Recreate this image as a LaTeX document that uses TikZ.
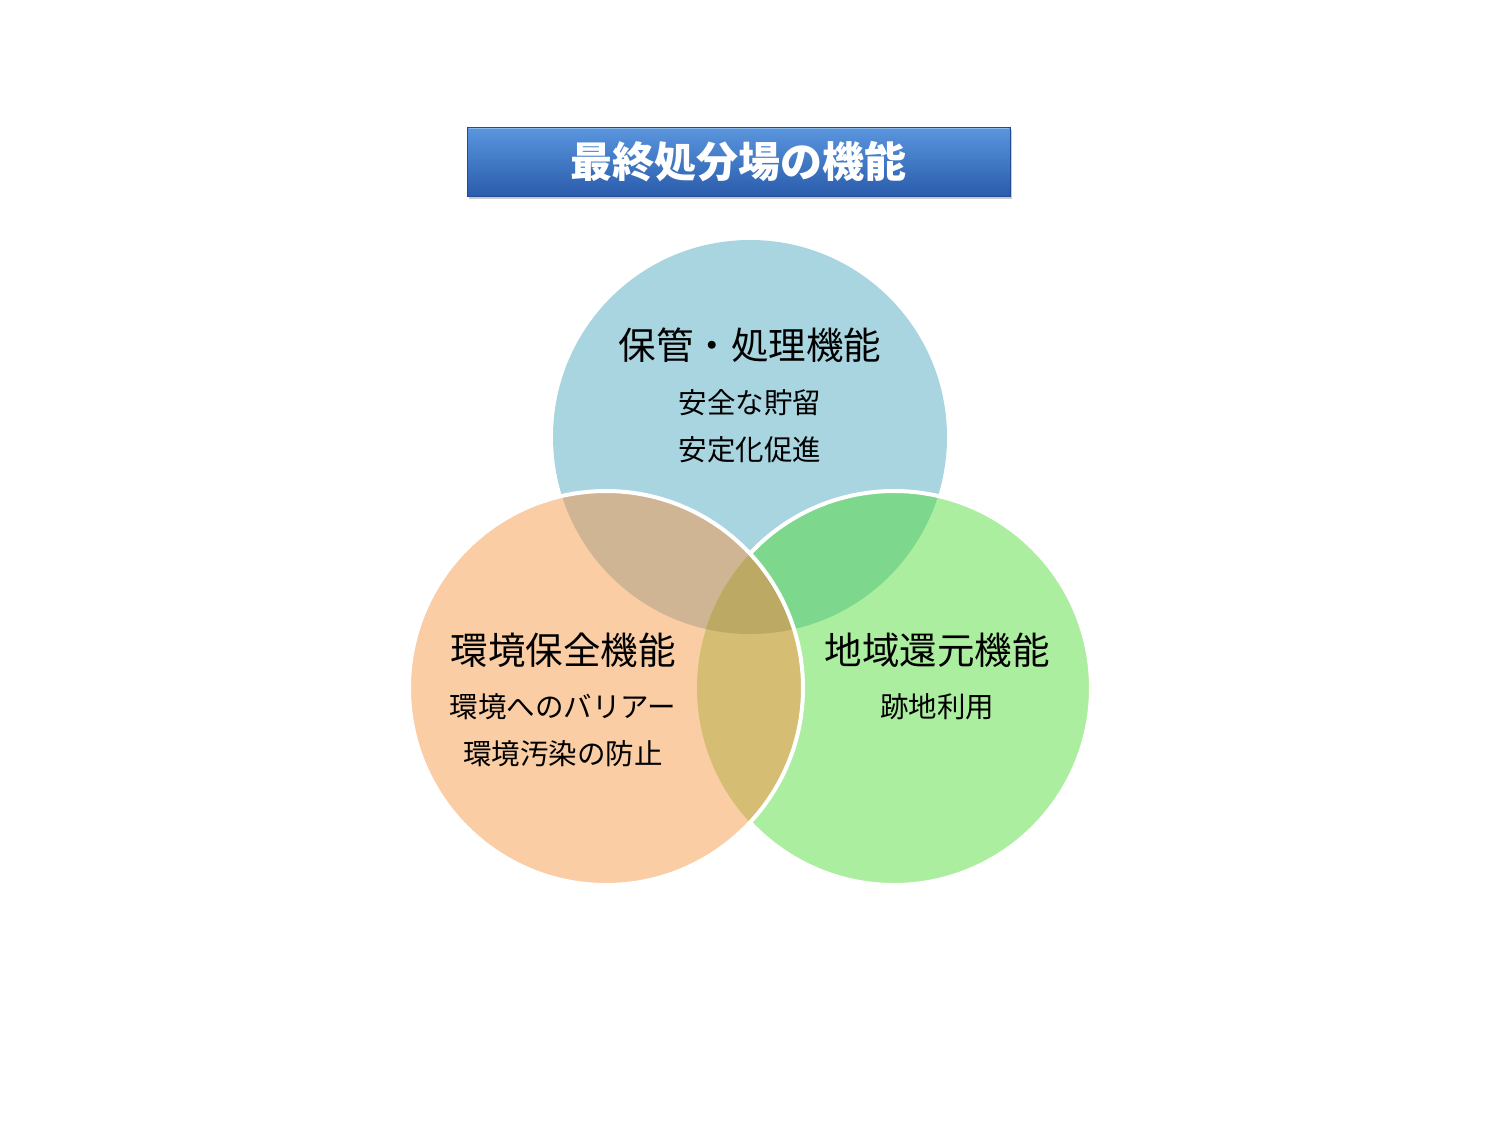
\documentclass[tikz,border=0pt]{standalone}
\usepackage{fontspec}
\setmainfont{Noto Sans CJK JP}
\usetikzlibrary{shadows}
\definecolor{cTop}{RGB}{168,213,224}
\definecolor{cLeft}{RGB}{250,205,165}
\definecolor{cRight}{RGB}{172,238,160}
\definecolor{cTL}{RGB}{207,181,147}
\definecolor{cTR}{RGB}{125,215,140}
\definecolor{cLR}{RGB}{213,190,115}
\definecolor{cTLR}{RGB}{188,170,100}
\definecolor{tTop}{RGB}{90,150,222}
\definecolor{tBot}{RGB}{42,92,172}
\definecolor{tEdge}{RGB}{35,75,145}
\definecolor{tHi}{RGB}{140,185,235}
\tikzset{
  venn/.style={circle, minimum size=394pt, inner sep=0pt},
  headtext/.style={font=\fontsize{37.5}{40}\selectfont, inner sep=0pt, text=black},
  subtext/.style={font=\fontsize{28.5}{30}\selectfont, inner sep=0pt, text=black},
  titlebox/.style={draw=tEdge, line width=1pt, top color=tTop, bottom color=tBot,
    minimum width=543pt, minimum height=69pt, inner sep=0pt,
    drop shadow={opacity=0.4, shadow xshift=2pt, shadow yshift=-3pt},
    font=\bfseries\fontsize{42}{44}\selectfont, text=white},
  outline/.style={draw=white, line width=4pt}
}
\begin{document}
\begin{tikzpicture}[x=1pt,y=1pt]
\useasboundingbox (0,0) rectangle (1500,-1125);
\fill[white] (0,0) rectangle (1500,-1125);
% title
\node[titlebox] (title) at (738.5,-161.5) {};
\draw[tHi, line width=1.5pt] ([shift={(2,-2)}]title.north west) -- ([shift={(-2,-2)}]title.north east);
\node[font=\bfseries\fontsize{42}{44}\selectfont, text=white, inner sep=0pt] (titletext) at (title.center) {最終処分場の機能};
% circles
\node[venn, fill=cTop] (ctop) at (750,-437) {};
\node[venn, fill=cRight] (cright) at (894,-688) {};
\node[venn, fill=cLeft] (cleft) at (606,-688) {};
% overlaps
\begin{scope}
  \clip (750,-437) circle (197);
  \fill[cTL] (606,-688) circle (197);
  \fill[cTR] (894,-688) circle (197);
\end{scope}
\begin{scope}
  \clip (606,-688) circle (197);
  \fill[cLR] (894,-688) circle (197);
  \clip (894,-688) circle (197);
  \fill[cTLR] (750,-437) circle (197);
\end{scope}
% white outlines
\draw[outline] (894,-688) ++(137:197) arc[start angle=137, end angle=-137, radius=197];
\draw[outline] (606,-688) circle (197);
% texts
\node[headtext] (t1) at (750,-345) {保管・処理機能};
\node[subtext] (t1a) at (750,-403) {安全な貯留};
\node[subtext] (t1b) at (750,-450) {安定化促進};
\node[headtext] (t2) at (563,-650) {環境保全機能};
\node[subtext] (t2a) at (563,-707) {環境へのバリアー};
\node[subtext] (t2b) at (563,-754) {環境汚染の防止};
\node[headtext] (t3) at (937,-650) {地域還元機能};
\node[subtext] (t3a) at (937,-707) {跡地利用};
\end{tikzpicture}
\end{document}
